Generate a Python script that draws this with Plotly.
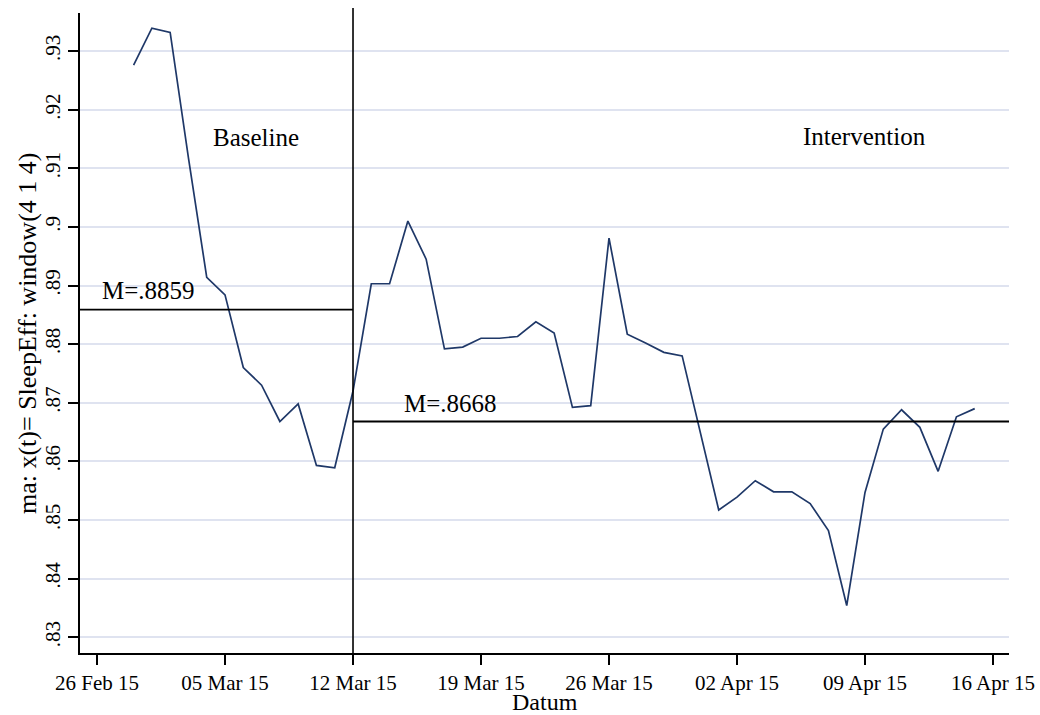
import plotly.graph_objects as go

# ---- data ----
dates = [
    "2015-02-28", "2015-03-01", "2015-03-02", "2015-03-03", "2015-03-04", "2015-03-05",
    "2015-03-06", "2015-03-07", "2015-03-08", "2015-03-09", "2015-03-10", "2015-03-11",
    "2015-03-12", "2015-03-13", "2015-03-14", "2015-03-15", "2015-03-16", "2015-03-17",
    "2015-03-18", "2015-03-19", "2015-03-20", "2015-03-21", "2015-03-22", "2015-03-23",
    "2015-03-24", "2015-03-25", "2015-03-26", "2015-03-27", "2015-03-28", "2015-03-29",
    "2015-03-30", "2015-03-31", "2015-04-01", "2015-04-02", "2015-04-03", "2015-04-04",
    "2015-04-05", "2015-04-06", "2015-04-07", "2015-04-08", "2015-04-09", "2015-04-10",
    "2015-04-11", "2015-04-12", "2015-04-13", "2015-04-14", "2015-04-15",
]
sleep_eff_ma = [
    0.9276, 0.9339, 0.9332, 0.9118, 0.8914, 0.8884,
    0.8760, 0.8730, 0.8668, 0.8698, 0.8593, 0.8589,
    0.8720, 0.8903, 0.8903, 0.9010, 0.8945, 0.8792,
    0.8795, 0.8810, 0.8810, 0.8813, 0.8838, 0.8819,
    0.8692, 0.8695, 0.8981, 0.8817, 0.8802, 0.8786,
    0.8780, 0.8650, 0.8517, 0.8539, 0.8567, 0.8548,
    0.8548, 0.8528, 0.8482, 0.8354, 0.8547, 0.8655,
    0.8688, 0.8658, 0.8583, 0.8676, 0.8690,
]

phase_change = "2015-03-12"
baseline_mean = 0.8859
intervention_mean = 0.8668
mean_labels = ["M=.8859", "M=.8668"]
phase_labels = ["Baseline", "Intervention"]

x_tick_vals = ["2015-02-26", "2015-03-05", "2015-03-12", "2015-03-19",
               "2015-03-26", "2015-04-02", "2015-04-09", "2015-04-16"]
x_tick_text = ["26 Feb 15", "05 Mar 15", "12 Mar 15", "19 Mar 15",
               "26 Mar 15", "02 Apr 15", "09 Apr 15", "16 Apr 15"]
y_tick_vals = [0.83, 0.84, 0.85, 0.86, 0.87, 0.88, 0.89, 0.90, 0.91, 0.92, 0.93]
y_tick_text = [".83", ".84", ".85", ".86", ".87", ".88", ".89", ".9", ".91", ".92", ".93"]

x_range = ["2015-02-25 01:40", "2015-04-16 21:00"]
y_range = [0.8273, 0.9365]

SERIF = "Liberation Serif, Times New Roman, serif"

fig = go.Figure()
fig.add_trace(go.Scatter(
    x=dates, y=sleep_eff_ma, mode="lines",
    line=dict(color="#1f3868", width=1.7),
    showlegend=False, hoverinfo="x+y",
))

# phase change line
fig.add_shape(type="line", xref="x", yref="paper",
              x0=phase_change, x1=phase_change, y0=0, y1=1.008,
              line=dict(color="black", width=1.6), layer="above")
# mean lines
fig.add_shape(type="line", xref="x", yref="y",
              x0=x_range[0], x1=phase_change, y0=baseline_mean, y1=baseline_mean,
              line=dict(color="black", width=1.8), layer="above")
fig.add_shape(type="line", xref="x", yref="y",
              x0=phase_change, x1=x_range[1], y0=intervention_mean, y1=intervention_mean,
              line=dict(color="black", width=1.8), layer="above")

ann_font = dict(family=SERIF, size=25, color="black")
fig.add_annotation(x="2015-03-06 17:00", y=0.9152, text=phase_labels[0],
                   showarrow=False, font=ann_font, xanchor="center", yanchor="middle")
fig.add_annotation(x="2015-04-08 23:00", y=0.9155, text=phase_labels[1],
                   showarrow=False, font=ann_font, xanchor="center", yanchor="middle")
fig.add_annotation(x="2015-02-26 04:00", y=0.8891, text=mean_labels[0],
                   showarrow=False, font=ann_font, xanchor="left", yanchor="middle")
fig.add_annotation(x="2015-03-14 16:00", y=0.8699, text=mean_labels[1],
                   showarrow=False, font=ann_font, xanchor="left", yanchor="middle")

# axis titles as paper annotations
fig.add_annotation(xref="paper", yref="paper", x=0.5, y=-0.076, text="Datum",
                   showarrow=False, font=dict(family=SERIF, size=24, color="black"),
                   xanchor="center", yanchor="middle")
fig.add_annotation(xref="paper", yref="paper", x=-0.057, y=0.5,
                   text="ma: x(t)= SleepEff: window(4 1 4)", textangle=-90,
                   showarrow=False, font=dict(family=SERIF, size=26, color="black"),
                   xanchor="center", yanchor="middle")

fig.update_layout(
    width=1040, height=715,
    margin=dict(l=80, r=31, t=13, b=62, autoexpand=False),
    paper_bgcolor="white", plot_bgcolor="white",
    font=dict(family=SERIF, color="black"),
    xaxis=dict(
        type="date", range=x_range,
        tickmode="array", tickvals=x_tick_vals, ticktext=x_tick_text,
        tickfont=dict(family=SERIF, size=21, color="black"),
        ticks="outside", ticklen=10, tickwidth=1.5, tickcolor="black",
        showline=True, linecolor="black", linewidth=1.5,
        showgrid=False, zeroline=False, automargin=False,
    ),
    yaxis=dict(
        range=y_range,
        tickmode="array", tickvals=y_tick_vals, ticktext=y_tick_text,
        tickangle=-90,
        tickfont=dict(family=SERIF, size=21, color="black"),
        ticks="outside", ticklen=10, tickwidth=1.5, tickcolor="black",
        showline=True, linecolor="black", linewidth=1.5,
        showgrid=True, gridcolor="#dfe3f0", gridwidth=1.5,
        zeroline=False, automargin=False,
    ),
)

fig.write_html("out.html")
